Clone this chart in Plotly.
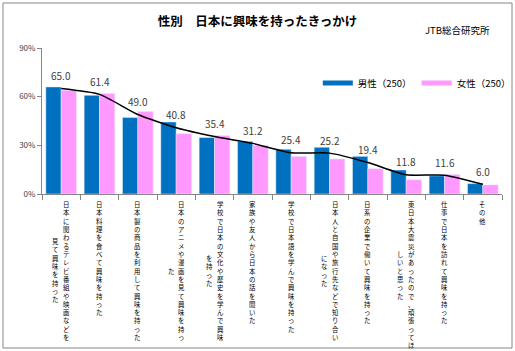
import plotly.graph_objects as go

categories = [
    "日本に関わるテレビ番組や映画などを\n見て興味を持った",
    "日本料理を食べて興味を持った",
    "日本製の商品を利用して興味を持った",
    "日本のアニメや漫画を見て興味を持っ\nた",
    "学校で日本の文化や歴史を学んで興味\nを持った",
    "家族や友人から日本の話を聞いた",
    "学校で日本語を学んで興味を持った",
    "日本人と自国や旅行先などで知り合い\nになった",
    "日系の企業で働いて興味を持った",
    "東日本大震災があったので、頑張ってほ\nしいと思った",
    "仕事で日本を訪れて興味を持った",
    "その他",
]
total = [65.0, 61.4, 49.0, 40.8, 35.4, 31.2, 25.4, 25.2, 19.4, 11.8, 11.6, 6.0]
male = [66.0, 60.8, 47.2, 44.4, 34.8, 32.4, 27.6, 28.8, 23.2, 14.8, 11.2, 6.4]
female = [64.0, 62.0, 50.8, 37.2, 36.0, 30.0, 23.2, 21.6, 15.6, 8.8, 12.0, 5.6]
series_names = ["男性（250）", "女性（250）"]
y_ticks = [0, 30, 60, 90]
y_ticktext = ["0%", "30%", "60%", "90%"]
title_text = "性別　日本に興味を持ったきっかけ"
source_text = "JTB総合研究所"

BLUE = "#0070C0"
PINK = "#FF99FF"
CJK = "Noto Sans CJK JP"

idx = list(range(len(categories)))

fig = go.Figure()
fig.add_trace(go.Bar(x=idx, y=male, marker_color=BLUE, showlegend=False, name=series_names[0]))
fig.add_trace(go.Bar(x=idx, y=female, marker_color=PINK, showlegend=False, name=series_names[1]))
fig.add_trace(go.Scatter(x=idx, y=total, mode="lines", line=dict(color="black", width=1.5, shape="spline", smoothing=0.6),
                         showlegend=False, hoverinfo="skip"))
# legend proxies
fig.add_trace(go.Scatter(x=[None], y=[None], mode="lines", line=dict(color=BLUE, width=5), name=series_names[0]))
fig.add_trace(go.Scatter(x=[None], y=[None], mode="lines", line=dict(color=PINK, width=5), name=series_names[1]))

annotations = []
# value labels
for i, v in zip(idx, total):
    annotations.append(dict(x=i, y=v, xref="x", yref="y", text=f"{v:.1f}", showarrow=False,
                            yshift=13, font=dict(size=10, color="#404040", family=CJK)))

# vertical category labels (upright stacked characters, columns right-to-left)
fs = 6.4
pitch = fs * 1.3
for i, cat in enumerate(categories):
    cols = cat.split("\n")
    maxlen = max(len(c) for c in cols)
    n = len(cols)
    for k, col in enumerate(cols):
        xs = 0 if n == 1 else (5.5 if k == 0 else -5.5)
        off = (maxlen - len(col)) / 2 * pitch
        annotations.append(dict(x=i, y=0, xref="x", yref="paper", text="<br>".join(col), showarrow=False,
                                xanchor="center", yanchor="top", xshift=xs, align="center",
                                yshift=-(5 + off), borderpad=0,
                                font=dict(size=fs, color="black", family=CJK)))

annotations.append(dict(x=0.978, y=1.123, xref="paper", yref="paper", text=source_text, showarrow=False,
                        xanchor="right", yanchor="middle", font=dict(size=9.5, color="black", family=CJK)))

fig.update_layout(
    width=515, height=351,
    margin=dict(l=42, r=13, t=48, b=157, autoexpand=False),
    paper_bgcolor="white", plot_bgcolor="white",
    font=dict(family=CJK, color="black"),
    title=dict(text=title_text, x=0.5, xanchor="center", xref="container",
               y=1 - 22 / 351, yanchor="middle", yref="container",
               font=dict(size=12.5, color="black", family=CJK, weight="bold")),
    barmode="group", bargap=0.2, bargroupgap=0,
    xaxis=dict(type="linear", range=[-0.5, len(categories) - 0.5], showticklabels=False,
               tickmode="array", tickvals=[i - 0.5 for i in range(len(categories) + 1)],
               ticks="outside", ticklen=5, tickcolor="#868686", showgrid=False, zeroline=False,
               showline=True, linecolor="#868686", linewidth=1),
    yaxis=dict(range=[0, 90], tickmode="array", tickvals=y_ticks, ticktext=y_ticktext,
               ticks="outside", ticklen=4,
               tickcolor="#868686", showgrid=False, zeroline=False, showline=True,
               linecolor="#868686", linewidth=1, tickfont=dict(size=8, color="#404040", family=CJK)),
    legend=dict(orientation="h", x=1.03, xanchor="right", y=0.76, yanchor="middle",
                font=dict(size=9.5, family=CJK, color="black"), bgcolor="rgba(0,0,0,0)",
                itemwidth=30, tracegroupgap=0),
    annotations=annotations,
    shapes=[dict(type="rect", xref="paper", yref="paper", x0=(3 - 42) / 460, x1=(512 - 42) / 460,
                 y0=(194 - 348) / 146, y1=(194 - 3) / 146, line=dict(color="#868686", width=1),
                 fillcolor="rgba(0,0,0,0)", layer="below")],
)

fig.write_html("out.html")
